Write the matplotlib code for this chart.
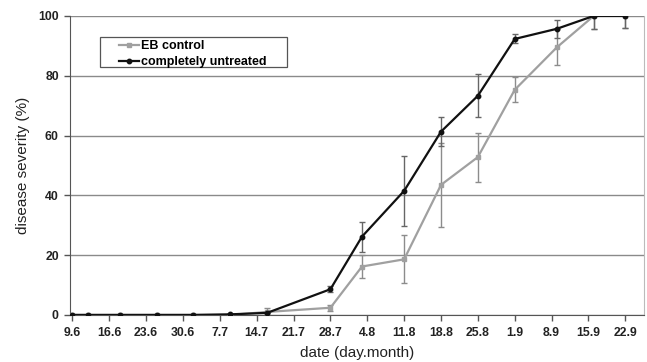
import matplotlib
matplotlib.use("Agg")
import matplotlib.pyplot as plt
from matplotlib.lines import Line2D
from matplotlib.patches import Rectangle

# days after 9 June
days = [0, 3, 9, 16, 23, 30, 37, 49, 55, 63, 70, 77, 84, 92, 99, 105]

eb_control = [0, 0, 0, 0, 0, 0, 1.0, 2.4, 16.2, 18.6, 43.5, 52.8, 75.3, 89.5, 100, 100]
eb_err = [0, 0, 0, 0, 0, 0, 1.4, 1.0, 4.0, 8.0, 14.0, 8.2, 4.2, 6.0, 4.5, 4.0]

untreated = [0, 0, 0, 0, 0, 0.2, 0.7, 8.6, 26.2, 41.5, 61.3, 73.3, 92.3, 95.7, 100, 100]
untreated_err = [0, 0, 0, 0, 0, 0, 0, 1.0, 5.0, 11.7, 4.8, 7.2, 1.5, 3.0, 4.5, 4.0]

tick_days = [0, 7, 14, 21, 28, 35, 42, 49, 56, 63, 70, 77, 84, 91, 98, 105]
tick_labels = ['9.6', '16.6', '23.6', '30.6', '7.7', '14.7', '21.7', '28.7',
               '4.8', '11.8', '18.8', '25.8', '1.9', '8.9', '15.9', '22.9']

GRAY = '#a0a0a0'
BLACK = '#111111'

plt.rcParams['font.family'] = ['Liberation Sans', 'DejaVu Sans']

fig = plt.figure(figsize=(6.47, 3.62), dpi=100)
ax = fig.add_axes([0.108, 0.130, 0.887, 0.826])

ax.errorbar(days, eb_control, yerr=eb_err, color=GRAY, ecolor='#8c8c8c',
            elinewidth=1.0, capsize=2.5, capthick=1.0, lw=1.6, marker='s',
            ms=3, zorder=3)
ax.errorbar(days, untreated, yerr=untreated_err, color=BLACK, ecolor='#666666',
            elinewidth=1.0, capsize=2.5, capthick=1.0, lw=1.6, marker='o',
            ms=3.2, zorder=4)

ax.set_xlim(-0.47, 108.5)
ax.set_ylim(0, 100)
ax.set_yticks([0, 20, 40, 60, 80, 100])
ax.set_xticks(tick_days)
ax.set_xticklabels(tick_labels)
for lab in ax.get_xticklabels() + ax.get_yticklabels():
    lab.set_fontsize(8.8)
    lab.set_fontweight('bold')
    lab.set_color('#222222')

ax.yaxis.grid(True, color='#8a8a8a', lw=1.0)
ax.set_axisbelow(True)
ax.spines['top'].set_visible(False)
ax.spines['right'].set_color('#bbbbbb')
ax.spines['left'].set_color('#555555')
ax.spines['bottom'].set_color('#555555')
ax.tick_params(axis='both', direction='out', length=4, color='#555555', width=1)
ax.tick_params(axis='x', pad=5)
ax.tick_params(axis='y', pad=4)

ax.set_xlabel('date (day.month)', fontsize=11, color='#222222', labelpad=5)
ax.set_ylabel('disease severity (%)', fontsize=11, color='#222222', labelpad=6)

# legend without error bar caps, plain box like the original
handles = [Line2D([], [], color=GRAY, lw=1.6, marker='s', ms=3),
           Line2D([], [], color=BLACK, lw=1.6, marker='o', ms=3.2)]
leg = ax.legend(handles, ['EB control', 'completely untreated'],
                loc='upper left', bbox_to_anchor=(0.0855, 0.918), frameon=False,
                prop={'size': 9, 'weight': 'bold'}, handlelength=1.6,
                handletextpad=0.2, borderpad=0, borderaxespad=0, labelspacing=0.32)
leg.set_zorder(6)
ax.add_patch(Rectangle((0.1546, 0.815), 0.289, 0.0829, transform=fig.transFigure,
                       facecolor='white', edgecolor='#555555', lw=0.9,
                       clip_on=False, zorder=5))

fig.savefig('out.png', dpi=100)
